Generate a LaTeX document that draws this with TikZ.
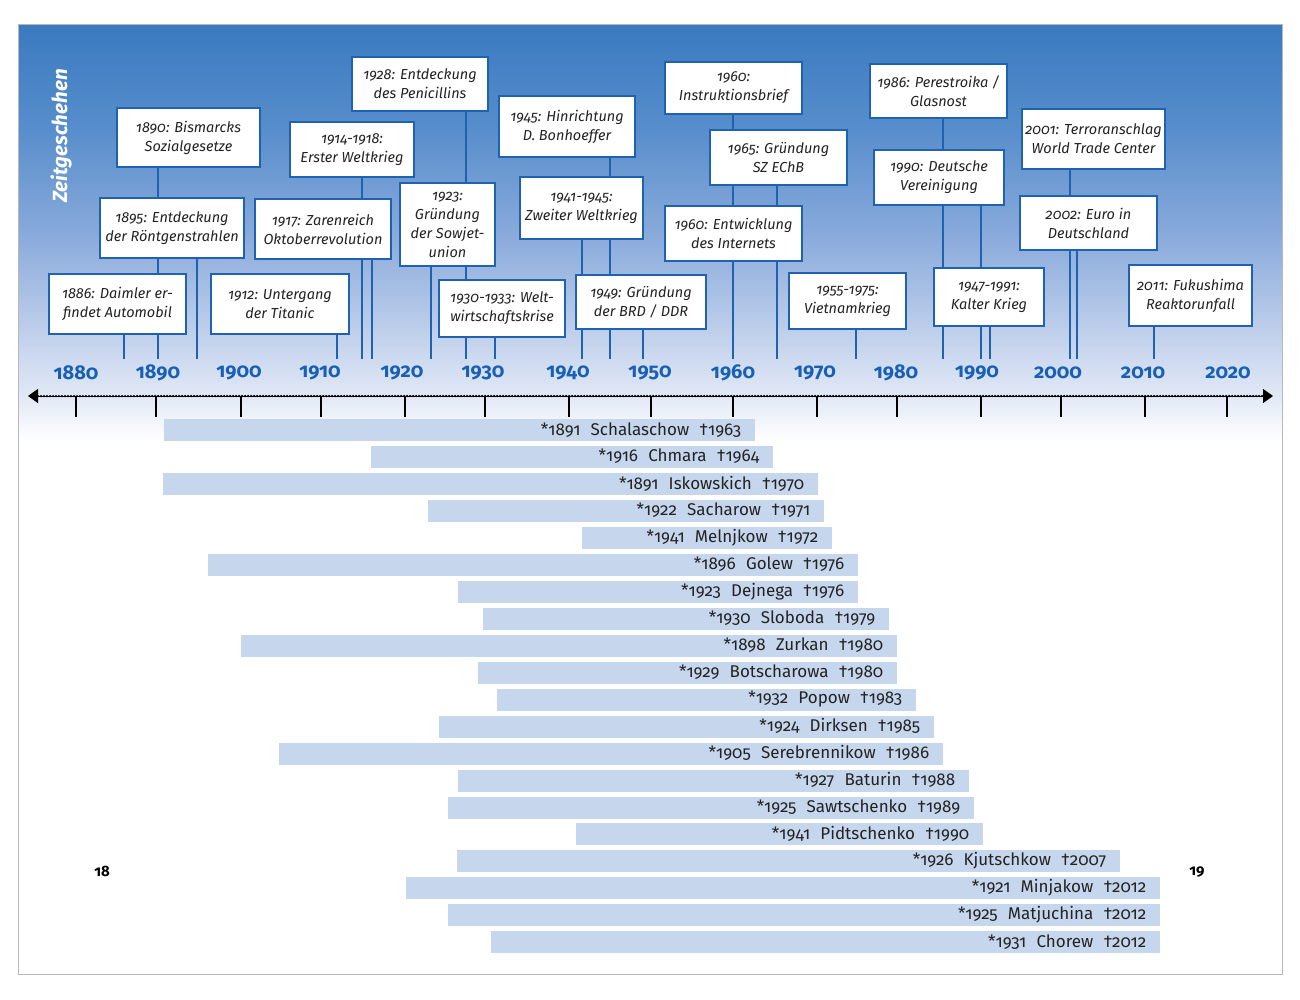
\documentclass[tikz,border=0pt]{standalone}
\usepackage{fontspec}
\setmainfont{Fira Sans}[Numbers=OldStyle]
\usetikzlibrary{arrows.meta}
\definecolor{evblue}{RGB}{30,98,176}
\definecolor{yrblue}{RGB}{24,96,180}
\definecolor{barfill}{RGB}{198,214,237}
\definecolor{gA}{RGB}{58,122,192}
\definecolor{gB}{RGB}{88,142,204}
\definecolor{gC}{RGB}{140,172,220}
\definecolor{gD}{RGB}{190,207,235}
\definecolor{gE}{RGB}{228,234,246}
\definecolor{txt}{RGB}{35,35,35}
\pgfdeclarelayer{bg}
\pgfdeclarelayer{lines}
\pgfsetlayers{bg,lines,main}
\newcommand{\ebox}[6]{\node[evbox, minimum width={#4-#2}, minimum height={#5-#3}] (#1) at ({(#2+#4)/2},{(#3+#5)/2}) {#6};}
\newcommand{\eline}[2]{\coordinate (e#2) at (#1,359); \draw[evline] (#2.south -| e#2) -- (e#2);}
\newcommand{\pbar}[6]{\node[pbarst, minimum width={#3-#2}, anchor=north west] (p#1) at (#2,{419+(#1-1)*26.95}) {};
  \node[pbartext, anchor=east] (t#1) at ([xshift=-14pt,yshift=0.5pt]p#1.east) {*#4\hspace{.6em}#5\hspace{.6em}†#6};}
\begin{document}
\begin{tikzpicture}[x=1pt,y=-1pt,
  evbox/.style={draw=evblue, line width=2pt, fill=white, inner sep=0pt, align=center,
    font=\itshape\fontsize{14.5}{19}\selectfont, text=txt},
  evline/.style={draw=evblue, line width=2pt},
  yearlab/.style={font=\bfseries\fontsize{20}{22}\selectfont, text=yrblue, inner sep=0pt},
  pbarst/.style={fill=barfill, draw=none, minimum height=22pt, inner sep=0pt},
  pbartext/.style={font=\fontsize{17}{19}\selectfont, text=txt, inner sep=0pt},
  tickst/.style={line width=2pt, draw=black},
  pagenum/.style={font=\bfseries\fontsize{15}{17}\selectfont, text=black, inner sep=0pt}]
\useasboundingbox (0,0) rectangle (1300,1000);
\begin{pgfonlayer}{bg}
\fill[white] (0,0) rectangle (1300,1000);
\fill[top color=gA, bottom color=gB, draw=none] (18,25) rectangle (1282,131);
\fill[top color=gB, bottom color=gC, draw=none] (18,130) rectangle (1282,241);
\fill[top color=gC, bottom color=gD, draw=none] (18,240) rectangle (1282,331);
\fill[top color=gD, bottom color=gE, draw=none] (18,330) rectangle (1282,401);
\fill[top color=gE, bottom color=white, draw=none] (18,400) rectangle (1282,440);
\draw[black!28, line width=1pt] (18,25) rectangle (1282,974);
\end{pgfonlayer}

\node[font=\bfseries\itshape\fontsize{20.5}{22}\selectfont, text=white, rotate=90, inner sep=0pt] (title) at (61,136) {Zeitgeschehen};

% event boxes
\ebox{b1890}{117}{108}{260}{167}{1890: Bismarcks\\Sozialgesetze}
\ebox{b1895}{100}{198}{244}{258}{1895: Entdeckung\\der Röntgenstrahlen}
\ebox{b1886}{49}{274}{186}{334}{1886: Daimler er-\\findet Automobil}
\ebox{b1914}{290}{122}{414}{177}{1914-1918:\\Erster Weltkrieg}
\ebox{b1917}{255}{199}{391}{259}{1917: Zarenreich\\Oktoberrevolution}
\ebox{b1912}{211}{274}{349}{334}{1912: Untergang\\der Titanic}
\ebox{b1928}{352}{57}{488}{111}{1928: Entdeckung\\des Penicillins}
\ebox{b1923}{400}{183}{495}{266}{1923:\\Gründung\\der Sowjet-\\union}
\ebox{b1930}{439}{280}{565}{337}{1930-1933: Welt-\\wirtschaftskrise}
\ebox{b1945}{499}{96}{635}{157}{1945: Hinrichtung\\D. Bonhoeffer}
\ebox{b1941}{520}{177}{643}{239}{1941-1945:\\Zweiter Weltkrieg}
\ebox{b1949}{576}{275}{706}{329}{1949: Gründung\\der BRD / DDR}
\ebox{b1960a}{665}{62}{802}{114}{1960:\\Instruktionsbrief}
\ebox{b1965}{710}{130}{847}{185}{1965: Gründung\\SZ EChB}
\ebox{b1960b}{665}{206}{802}{261}{1960: Entwicklung\\des Internets}
\ebox{b1955}{789}{273}{906}{329}{1955-1975:\\Vietnamkrieg}
\ebox{b1986}{870}{64}{1007}{118}{1986: Perestroika /\\Glasnost}
\ebox{b1990}{874}{150}{1004}{205}{1990: Deutsche\\Vereinigung}
\ebox{b1947}{934}{268}{1044}{326}{1947-1991:\\Kalter Krieg}
\ebox{b2001}{1022}{109}{1165}{169}{2001: Terroranschlag\\World Trade Center}
\ebox{b2002}{1020}{196}{1157}{250}{2002: Euro in\\Deutschland}
\ebox{b2011}{1129}{265}{1252}{326}{2011: Fukushima\\Reaktorunfall}

\begin{pgfonlayer}{lines}
\eline{124}{b1886}
\eline{158}{b1890}
\eline{197}{b1895}
\eline{337}{b1912}
\eline{362}{b1914}
\eline{372}{b1917}
\eline{431}{b1923}
\eline{466}{b1928}
\eline{495}{b1930}
\eline{582}{b1941}
\eline{610}{b1945}
\eline{643}{b1949}
\eline{733}{b1960a}
\eline{777}{b1965}
\eline{856}{b1955}
\eline{943}{b1986}
\eline{981}{b1990}
\eline{990}{b1947}
\eline{1070}{b2001}
\eline{1077}{b2002}
\eline{1154}{b2011}
\end{pgfonlayer}

% year labels
\foreach \yr/\xx in {1880/76,1890/158,1900/239,1910/320,1920/402,1930/483,1940/568,1950/650,1960/733,1970/815,1980/896,1990/977,2000/1058,2010/1143,2020/1228}
  \node[yearlab] (y\yr) at (\xx,373) {\yr};

% axis
\coordinate (axL) at (28,396);
\coordinate (axR) at (1273,396);
\draw[line width=0.9pt, {Triangle[length=10pt,width=14pt]}-{Triangle[length=10pt,width=14pt]}] (axL) -- (axR);
\draw[line width=2.5pt, line cap=round, dash pattern=on 0pt off 3pt] ([xshift=10pt]axL) -- ([xshift=-10pt]axR);
\foreach \xx in {76,156,241,321,405,485,569,651,733,817,897,981,1061,1145,1227}
  \draw[tickst] (\xx,396) -- (\xx,417);

% bars
\pbar{1}{164}{755}{1891}{Schalaschow}{1963}
\pbar{2}{371}{773}{1916}{Chmara}{1964}
\pbar{3}{163}{818}{1891}{Iskowskich}{1970}
\pbar{4}{428}{824}{1922}{Sacharow}{1971}
\pbar{5}{582}{832}{1941}{Melnjkow}{1972}
\pbar{6}{208}{858}{1896}{Golew}{1976}
\pbar{7}{458}{858}{1923}{Dejnega}{1976}
\pbar{8}{483}{889}{1930}{Sloboda}{1979}
\pbar{9}{241}{897}{1898}{Zurkan}{1980}
\pbar{10}{478}{897}{1929}{Botscharowa}{1980}
\pbar{11}{497}{916}{1932}{Popow}{1983}
\pbar{12}{439}{934}{1924}{Dirksen}{1985}
\pbar{13}{279}{943}{1905}{Serebrennikow}{1986}
\pbar{14}{458}{969}{1927}{Baturin}{1988}
\pbar{15}{448}{974}{1925}{Sawtschenko}{1989}
\pbar{16}{576}{983}{1941}{Pidtschenko}{1990}
\pbar{17}{457}{1120}{1926}{Kjutschkow}{2007}
\pbar{18}{406}{1160}{1921}{Minjakow}{2012}
\pbar{19}{448}{1160}{1925}{Matjuchina}{2012}
\pbar{20}{491}{1160}{1931}{Chorew}{2012}

\node[pagenum] (pg18) at (102,871) {18};
\node[pagenum] (pg19) at (1197,872) {19};
\end{tikzpicture}
\end{document}
